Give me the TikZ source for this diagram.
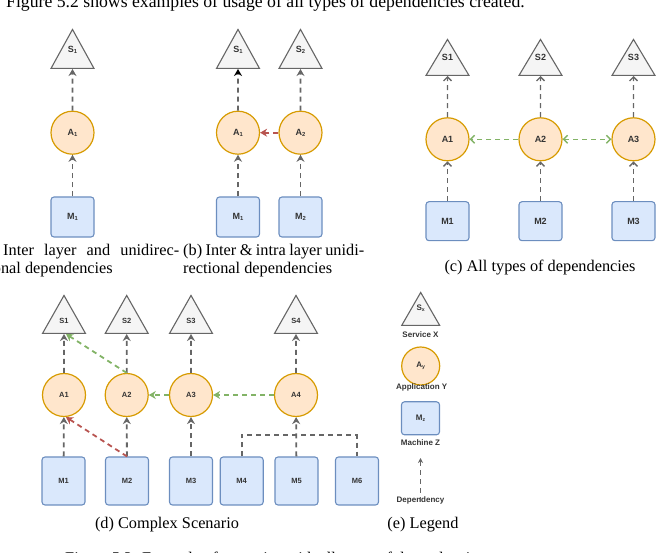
\documentclass[tikz,border=0pt]{standalone}
\usepackage{fontspec}
\setmainfont{Liberation Serif}
\newfontfamily\lblfont{Liberation Sans}
\usetikzlibrary{shapes.geometric,arrows.meta,positioning}

\definecolor{svcfill}{HTML}{F5F5F5}
\definecolor{svcline}{HTML}{666666}
\definecolor{appfill}{HTML}{FFE6CC}
\definecolor{appline}{HTML}{D79B00}
\definecolor{macfill}{HTML}{DAE8FC}
\definecolor{macline}{HTML}{6C8EBF}
\definecolor{depgray}{HTML}{666666}
\definecolor{depgreen}{HTML}{82B366}
\definecolor{depred}{HTML}{B85450}

\newcommand{\lowidx}[1]{\raisebox{-0.3ex}{\scalebox{0.65}{#1}}}

\tikzset{
  svc/.style={isosceles triangle, shape border rotate=90, isosceles triangle stretches,
    isosceles triangle apex angle=60, text depth=12pt,
    draw=svcline, fill=svcfill, line width=1.1pt, minimum width=43pt, minimum height=39pt,
    inner sep=0pt, anchor=lower side, font=\lblfont\bfseries\fontsize{9}{10}\selectfont, text=black!80},
  app/.style={circle, draw=appline, fill=appfill, line width=1.2pt, minimum size=43pt,
    inner sep=0pt, font=\lblfont\bfseries\fontsize{9}{10}\selectfont, text=black!80},
  mach/.style={rectangle, rounded corners=3pt, draw=macline, fill=macfill, line width=1.1pt,
    minimum width=43pt, minimum height=40pt, inner sep=0pt,
    font=\lblfont\bfseries\fontsize{9}{10}\selectfont, text=black!80},
  dep/.style={draw=depgray, line width=1.8pt, dash pattern=on 5pt off 4pt,
    -{Stealth[length=7pt,width=8pt]}},
  opendep/.style={draw=depgray, line width=1.4pt, dash pattern=on 5pt off 4pt,
    -{Straight Barb[length=4pt,width=8pt]}},
  txt/.style={font=\fontsize{16.3}{18}\selectfont, inner sep=0pt},
  small/.style={font=\lblfont\bfseries\fontsize{7.5}{9}\selectfont},
  lgd/.style={font=\lblfont\bfseries\fontsize{8}{9}\selectfont, text=black!80, inner sep=0pt}
}

\begin{document}
\begin{tikzpicture}[x=1pt,y=-1pt]
\useasboundingbox (0,0) rectangle (657,553);

\node[txt, font=\fontsize{17.7}{20}\selectfont, anchor=base west] (intro) at (6,8)
  {Figure 5.2 shows examples of usage of all types of dependencies created.};

% (a) inter layer, unidirectional
\node[svc] (aS1) at (72.5,69) {S\lowidx{1}};
\node[app] (aA1) at (72.5,132.7) {A\lowidx{1}};
\node[mach] (aM1) at (72.5,217) {M\lowidx{1}};
\draw[dep] (aM1) -- (aA1);
\draw[dep] (aA1) -- (aS1);
\node[txt, anchor=base west] (capa1) at (3,256) {\makebox[176pt][s]{Inter layer and unidirec-}};
\node[txt, anchor=base east] (capa2) at (113,274) {tional dependencies};

% (b) inter & intra layer, unidirectional
\node[svc] (bS1) at (238,69) {S\lowidx{1}};
\node[svc] (bS2) at (300.5,69) {S\lowidx{2}};
\node[app] (bA1) at (238,132.7) {A\lowidx{1}};
\node[app] (bA2) at (300.5,132.7) {A\lowidx{2}};
\node[mach] (bM1) at (238,217) {M\lowidx{1}};
\node[mach] (bM2) at (300.5,217) {M\lowidx{2}};
\draw[dep] (bM1) -- (bA1);
\draw[dep] (bM2) -- (bA2);
\draw[dep, -{Stealth[length=7pt,width=8pt,black]}] (bA1) -- (bS1);
\draw[dep] (bA2) -- (bS2);
\draw[dep, draw=depred] (bA2) -- (bA1);
\node[txt, anchor=base west] (capb1) at (183,256) {\makebox[181pt][s]{(b) Inter \& intra layer unidi-}};
\node[txt, anchor=base west] (capb2) at (183,274) {rectional dependencies};

% (c) all types
\foreach \i/\x in {1/447.5,2/540.5,3/633.5}{
  \node[svc, minimum height=36pt] (cS\i) at (\x,76) {S\i};
  \node[app] (cA\i) at (\x,139.3) {A\i};
  \node[mach, minimum height=39pt] (cM\i) at (\x,221.2) {M\i};
  \draw[opendep] (cM\i) -- (cA\i);
  \draw[opendep] (cA\i) -- (cS\i);
}
\draw[opendep, draw=depgreen] (cA2) -- (cA1);
\draw[opendep, draw=depgreen, {Straight Barb[length=4pt,width=8pt]}-{Straight Barb[length=4pt,width=8pt]}] (cA2) -- (cA3);
\node[txt, anchor=base] (capc) at (540,272) {(c) All types of dependencies};

% (d) complex scenario
\foreach \i/\x in {1/64,2/126.7,3/191,4/296}{
  \node[svc, minimum height=38pt, text depth=2pt, small] (dS\i) at (\x,334) {S\i};
  \node[app, small] (dA\i) at (\x,395) {A\i};
  \draw[dep] (dA\i) -- (dS\i);
}
\foreach \i/\x in {1/63.5,2/127,3/191,4/241.7,5/296.5,6/357}{
  \node[mach, minimum height=48pt, small] (dM\i) at (\x,481) {M\i};
}
\draw[dep] (dM1) -- (dA1);
\draw[dep] (dM2) -- (dA2);
\draw[dep] (dM3) -- (dA3);
\draw[dep] (dM5) -- (dA4);
\draw[dep, -] (dM4.north) -- ++(0,-21.3) -| (dM6.north);
\draw[dep, draw=depgreen] (dA2.north) -- ([xshift=2pt]dS1.lower side);
\draw[dep, draw=depgreen] (dA3) -- (dA2);
\draw[dep, draw=depgreen] (dA4) -- (dA3);
\draw[dep, draw=depred] (dM2.north) -- ([xshift=2pt]dA1.south);
\node[txt, anchor=base] (capd) at (167,529) {(d) Complex Scenario};

% (e) legend
\node[svc, minimum width=38pt, minimum height=33pt, lgd] (eS) at (420.7,326) {S\lowidx{x}};
\node[lgd, anchor=north] (eSt) at (420.5,332) {Service X};
\node[app, minimum size=38pt, lgd] (eA) at (420.7,366) {A\lowidx{y}};
\node[lgd, anchor=north] (eAt) at (421.7,384) {Application Y};
\node[mach, minimum width=38pt, minimum height=33pt, lgd] (eM) at (420.5,418.3) {M\lowidx{z}};
\node[lgd, anchor=north] (eMt) at (420.5,440) {Machine Z};
\node[lgd, anchor=north] (eDt) at (420.5,497) {Dependency};
\coordinate (eDtop) at (420.5,458);
\draw[dep, line width=1.1pt, -{Stealth[length=5pt,width=5pt]}] ([yshift=-5pt]eDt.north) -- (eDtop);
\node[txt, anchor=base] (cape) at (423,529) {(e) Legend};

\node[txt, anchor=base west] (figcap) at (65,564)
  {Figure 5.2: Example of scenarios with all types of dependencies};
\end{tikzpicture}
\end{document}
